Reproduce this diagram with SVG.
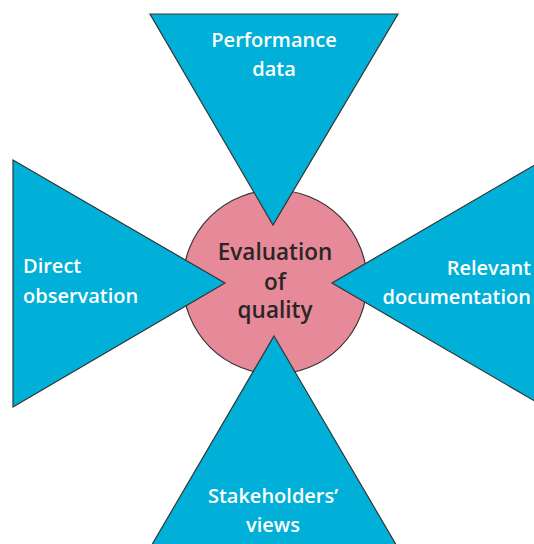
<svg xmlns="http://www.w3.org/2000/svg" width="534" height="544" viewBox="0 0 534 544">
  <style>
    .source { fill: #00b0d8; stroke: #333333; stroke-width: 1.2; stroke-linejoin: miter; }
    .hub { fill: #e68a9a; stroke: #333333; stroke-width: 1.2; }
    .label { font-family: "Open Sans", "Noto Sans", sans-serif; font-weight: 600; font-size: 20px; fill: #ffffff; }
    .hub-label { font-family: "Open Sans", "Noto Sans", sans-serif; font-weight: 650; font-size: 22.5px; fill: #2b2526; text-anchor: middle; }
  </style>
  <rect width="534" height="544" fill="#ffffff"/>

  <!-- central evaluation circle -->
  <g id="evaluation">
    <circle class="hub" cx="275" cy="282" r="92"/>
  </g>

  <!-- sources feeding into the evaluation -->
  <g id="performance-data">
    <polygon class="source" points="150,14 398,14 273,225"/>
    <text class="label" text-anchor="middle" x="274" y="47">Performance</text>
    <text class="label" text-anchor="middle" x="274" y="76">data</text>
  </g>

  <g id="direct-observation">
    <polygon class="source" points="13,160 13,407 225,283"/>
    <text class="label" x="23" y="273">Direct</text>
    <text class="label" x="23" y="303">observation</text>
  </g>

  <g id="relevant-documentation">
    <polygon class="source" points="545,159 545,407 332,283"/>
    <text class="label" text-anchor="end" x="531" y="275">Relevant</text>
    <text class="label" text-anchor="end" x="531" y="304">documentation</text>
  </g>

  <g id="stakeholders-views">
    <polygon class="source" points="274,336 398,548 150,548"/>
    <text class="label" text-anchor="middle" x="273" y="503">Stakeholders’</text>
    <text class="label" text-anchor="middle" x="273" y="532">views</text>
  </g>

  <!-- hub label drawn above the triangle tips -->
  <g id="evaluation-label">
    <text class="hub-label" x="275" y="260">Evaluation</text>
    <text class="hub-label" x="275" y="290">of</text>
    <text class="hub-label" x="275" y="318">quality</text>
  </g>

  <g id="connectors"/>
</svg>
